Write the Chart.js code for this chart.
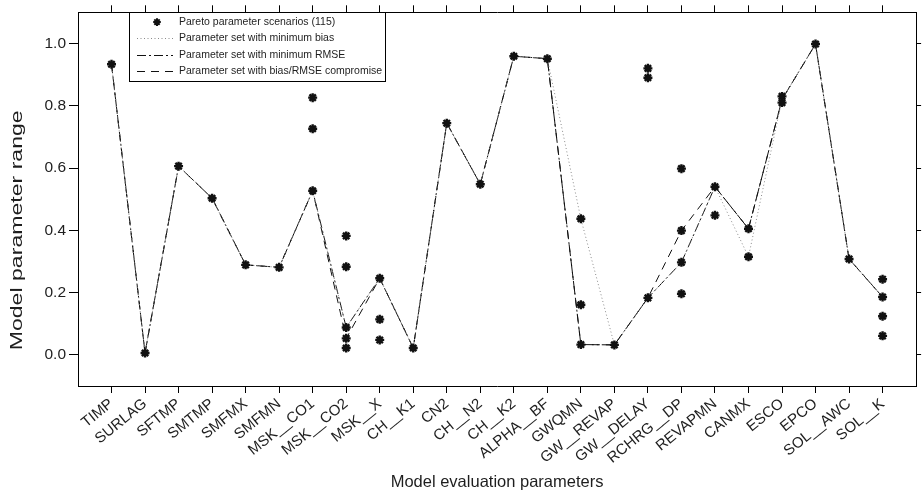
<!DOCTYPE html>
<html><head><meta charset="utf-8">
<script src="https://cdn.jsdelivr.net/npm/chart.js@4.4.1/dist/chart.umd.min.js"></script>
<style>html,body{margin:0;padding:0;background:#fff}canvas{display:block}</style>
</head><body>
<canvas id="c" width="923" height="493"></canvas>
<script>
const categories = ['TIMP','SURLAG','SFTMP','SMTMP','SMFMX','SMFMN','MSK__CO1','MSK__CO2','MSK__X','CH__K1','CN2','CH__N2','CH__K2','ALPHA__BF','GWQMN','GW__REVAP','GW__DELAY','RCHRG__DP','REVAPMN','CANMX','ESCO','EPCO','SOL__AWC','SOL__K'];
const paretoScenarios = [[0.933],[0.006],[0.606],[0.503],[0.289],[0.281],[0.826,0.726,0.527],[0.382,0.283,0.088,0.053,0.022],[0.246,0.114,0.048],[0.022],[0.744],[0.548],[0.959],[0.951],[0.437,0.161,0.033],[0.032],[0.92,0.89,0.183],[0.598,0.399,0.297,0.196],[0.54,0.448],[0.405,0.315],[0.83,0.81],[0.998],[0.308],[0.243,0.186,0.124,0.061]];
const minBias    = [0.933,0.006,0.606,0.503,0.289,0.281,0.527,0.088,0.246,0.022,0.744,0.548,0.959,0.951,0.437,0.032,0.183,0.297,0.54,0.315,0.82,0.998,0.308,0.186];
const minRmse    = [0.933,0.006,0.606,0.503,0.289,0.281,0.527,0.088,0.246,0.022,0.744,0.548,0.959,0.951,0.033,0.032,0.183,0.297,0.54,0.405,0.82,0.998,0.308,0.186];
const compromise = [0.933,0.006,0.606,0.503,0.289,0.281,0.527,0.053,0.246,0.022,0.744,0.548,0.959,0.951,0.033,0.032,0.183,0.399,0.54,0.405,0.82,0.998,0.308,0.186];
const yTicks = [0.0,0.2,0.4,0.6,0.8,1.0];
const seriesLabels = ['Pareto parameter scenarios (115)','Parameter set with minimum bias','Parameter set with minimum RMSE','Parameter set with bias/RMSE compromise'];
const xTitle = 'Model evaluation parameters';
const yTitle = 'Model parameter range';

const FONT = "'Liberation Sans', Arial, Helvetica, sans-serif";
const TXT = '#1e1e1e';
const toXY = arr => arr.map((v,i)=>({x:i,y:v}));
const scatterPts = [];
paretoScenarios.forEach((vals,i)=>vals.forEach(v=>scatterPts.push({x:i,y:v})));

const lineDs = (label, data, dash, color) => ({
  label, data: toXY(data), showLine:true, borderColor:color, borderWidth:1,
  borderDash:dash, pointRadius:0, pointHoverRadius:0, tension:0, fill:false, order:1
});

const catTicks = s => { s.ticks = categories.map((c,i)=>({value:i})); };
const yTickSet = s => { s.ticks = yTicks.map(v=>({value:v})); };

const legendPlugin = {
  id:'customLegend',
  afterDraw(chart){
    const ctx = chart.ctx, ca = chart.chartArea;
    const x0 = ca.left + 51, y0 = ca.top, w = 256, h = 69;
    ctx.save();
    ctx.fillStyle = '#fff'; ctx.fillRect(x0, y0, w, h);
    ctx.strokeStyle = '#000'; ctx.lineWidth = 1;
    ctx.strokeRect(Math.round(x0)+0.5, Math.round(y0)+0.5, w, h);
    ctx.font = '10.5px ' + FONT; ctx.textBaseline = 'middle'; ctx.textAlign = 'left';
    chart.data.datasets.forEach((ds, i) => {
      const cy = y0 + 9.8 + 16.35*i;
      if (i === 0) {
        ctx.strokeStyle = '#111'; ctx.lineWidth = 2;
        Chart.helpers.drawPoint(ctx, {pointStyle:'star', radius:3.8, borderWidth:2}, x0+28, cy);
      } else {
        ctx.strokeStyle = ds.borderColor; ctx.lineWidth = 1;
        ctx.setLineDash(ds.borderDash);
        ctx.beginPath(); ctx.moveTo(x0+8, Math.round(cy)+0.5); ctx.lineTo(x0+44, Math.round(cy)+0.5); ctx.stroke();
        ctx.setLineDash([]);
      }
      ctx.fillStyle = TXT;
      ctx.fillText(ds.label, x0+50, cy);
    });
    ctx.restore();
  }
};

// y-axis title, drawn elongated along its length as in the reference
const yTitlePlugin = {
  id:'yTitle',
  afterDraw(chart){
    const ctx = chart.ctx, ys = chart.scales.y;
    const cy = ys.getPixelForValue(0.4);
    ctx.save();
    ctx.translate(17, cy);
    ctx.rotate(-Math.PI/2);
    ctx.font = '16.5px ' + FONT; ctx.fillStyle = TXT;
    ctx.textAlign = 'center'; ctx.textBaseline = 'middle';
    const w = ctx.measureText(yTitle).width;
    ctx.scale(240 / w, 1);
    ctx.fillText(yTitle, 0, 0);
    ctx.restore();
  }
};

new Chart(document.getElementById('c'), {
  type:'scatter',
  data:{ datasets:[
    { label: seriesLabels[0], data: scatterPts, pointStyle:'star', pointRadius:4.5, pointBorderWidth:2.4,
      borderColor:'#111', backgroundColor:'#111', showLine:false, order:0 },
    lineDs(seriesLabels[1], minBias, [1,2.5], '#8a8a8a'),
    lineDs(seriesLabels[2], minRmse, [9,3,2,3], '#111'),
    lineDs(seriesLabels[3], compromise, [8,6], '#111')
  ]},
  options:{
    responsive:false, animation:false, devicePixelRatio:1,
    layout:{ padding:0 },
    plugins:{ legend:{display:false}, tooltip:{enabled:false} },
    scales:{
      x:{ type:'linear', position:'bottom', min:-1, max:24, afterBuildTicks:catTicks,
          afterFit:s=>{s.height=107;},
          ticks:{ callback:v=>categories[v], autoSkip:false, minRotation:39, maxRotation:39,
                  font:{family:FONT,size:15}, color:TXT, padding:2 },
          grid:{ drawOnChartArea:false, drawTicks:true, tickLength:7, color:'#000', lineWidth:1 },
          border:{ display:true, color:'#000', width:1 },
          title:{ display:true, text:xTitle, font:{family:FONT,size:16.5}, color:TXT, padding:{top:0,bottom:1} } },
      x2:{ type:'linear', position:'top', min:-1, max:24, afterBuildTicks:catTicks,
          afterFit:s=>{s.height=7;},
          ticks:{ display:false },
          grid:{ drawOnChartArea:false, drawTicks:true, tickLength:7, color:'#000', lineWidth:1 },
          border:{ display:true, color:'#000', width:1 } },
      y:{ type:'linear', position:'left', min:-0.1, max:1.1, afterBuildTicks:yTickSet,
          afterFit:s=>{s.width=78;},
          ticks:{ callback:v=>v.toFixed(1), font:{family:FONT,size:15.5}, color:TXT, padding:3 },
          grid:{ drawOnChartArea:false, drawTicks:true, tickLength:9, color:'#000', lineWidth:1 },
          border:{ display:true, color:'#000', width:1 },
          title:{ display:false, text:yTitle } },
      y2:{ type:'linear', position:'right', min:-0.1, max:1.1, afterBuildTicks:yTickSet,
          afterFit:s=>{s.width=5;},
          ticks:{ display:false },
          grid:{ drawOnChartArea:false, drawTicks:true, tickLength:5, color:'#000', lineWidth:1 },
          border:{ display:true, color:'#000', width:1 } }
    }
  },
  plugins:[legendPlugin, yTitlePlugin]
});
</script>
</body></html>
